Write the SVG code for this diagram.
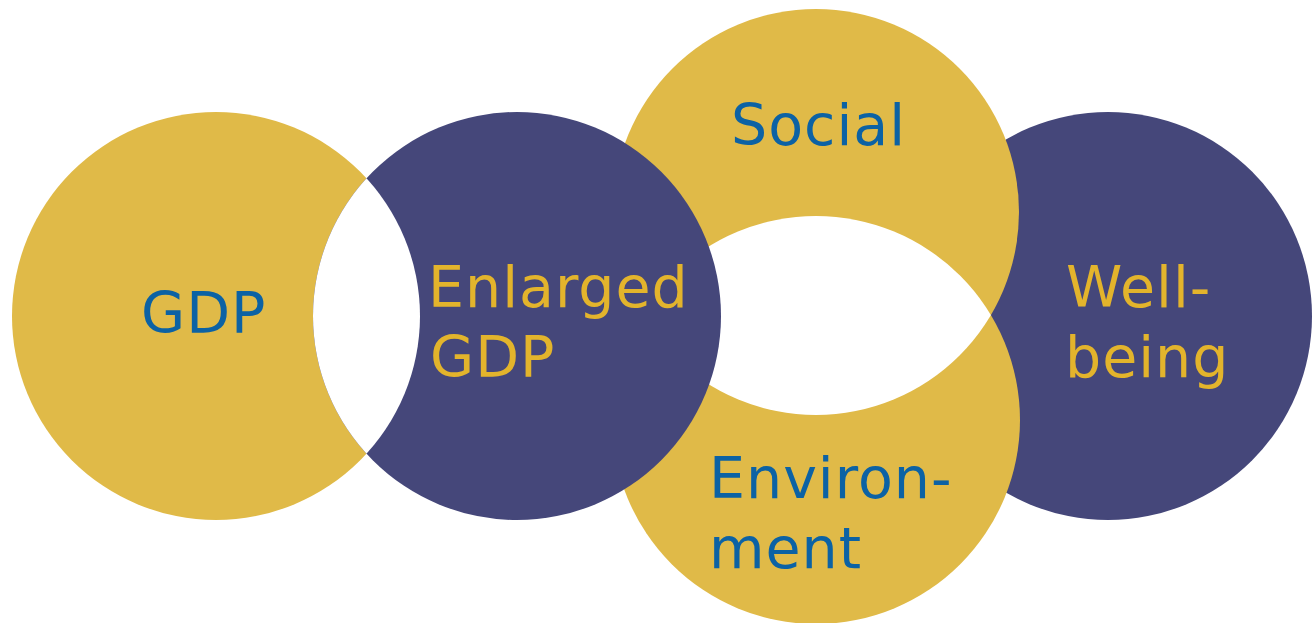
<svg xmlns="http://www.w3.org/2000/svg" width="1312" height="623" viewBox="0 0 1312 623">
  <style>
    .gold { fill: #E0BA48; }
    .navy { fill: #45477A; }
    .gap { fill: #FFFFFF; }
    .lbl { font-family: "DejaVu Sans", Verdana, sans-serif; font-size: 57px; letter-spacing: 1px; }
    .blue { fill: #0C62A4; }
    .yel { fill: #E3B42C; }
  </style>
  <defs>
    <clipPath id="clipSocial"><circle cx="816" cy="212" r="203"/></clipPath>
    <clipPath id="clipGdp"><circle cx="216" cy="316" r="204"/></clipPath>
  </defs>
  <rect width="1312" height="623" fill="#FFFFFF"/>

  <g id="wellbeing">
    <circle class="navy" cx="1108" cy="316" r="204"/>
  </g>
  <g id="social">
    <circle class="gold" cx="816" cy="212" r="203"/>
  </g>
  <g id="environment">
    <circle class="gold" cx="816" cy="420" r="204"/>
  </g>
  <g id="social-environment-gap">
    <circle class="gap" cx="816" cy="420" r="204" clip-path="url(#clipSocial)"/>
  </g>
  <g id="gdp">
    <circle class="gold" cx="216" cy="316" r="204"/>
  </g>
  <g id="enlarged-gdp">
    <circle class="navy" cx="517" cy="316" r="204"/>
  </g>
  <g id="gdp-enlarged-gap">
    <circle class="gap" cx="517" cy="316" r="204" clip-path="url(#clipGdp)"/>
  </g>

  <g id="labels">
    <text class="lbl blue" x="141" y="333">GDP</text>
    <text class="lbl yel" x="428" y="307">Enlarged</text>
    <text class="lbl yel" x="430" y="377">GDP</text>
    <text class="lbl blue" x="731" y="145">Social</text>
    <text class="lbl yel" x="1066" y="307">Well-</text>
    <text class="lbl yel" x="1065" y="377">being</text>
    <text class="lbl blue" x="709" y="498">Environ-</text>
    <text class="lbl blue" x="709" y="568">ment</text>
  </g>
  <g id="connectors"/>
</svg>
